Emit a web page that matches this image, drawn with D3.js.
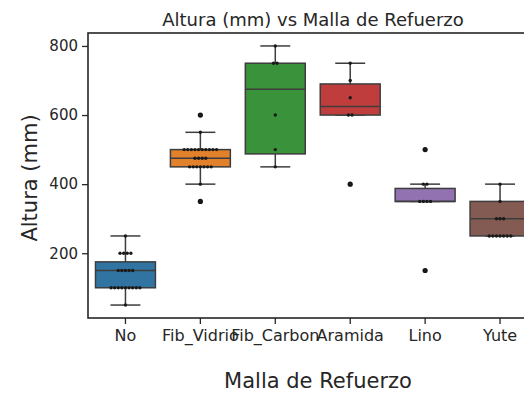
<!DOCTYPE html>
<html>
<head>
<meta charset="utf-8">
<script src="https://cdn.jsdelivr.net/npm/d3@7"></script>
<style>
  html, body { margin: 0; padding: 0; background: #fff; }
  svg { display: block; font-family: "DejaVu Sans", sans-serif; }
</style>
</head>
<body>
<svg id="chart" width="524" height="397"></svg>
<script>
// Reinforcement mesh categories
const categories = ["No", "Fib_Vidrio", "Fib_Carbon", "Aramida", "Lino", "Yute"];
const colors = ["#3274a1", "#e1812c", "#3a923a", "#c03d3e", "#9372b2", "#845b53"];

// Box statistics per category (mm)
const whiskerLow  = [50, 400, 450, 600, 350, 250];
const q1          = [100, 450, 487.5, 600, 350, 250];
const median      = [150, 475, 675, 625, 350, 300];
const q3          = [175, 500, 750, 690, 387.5, 350];
const whiskerHigh = [250, 550, 800, 750, 400, 400];
const outliers    = [[], [350, 600], [], [400], [150, 500], []];

// Individual observations (mm)
const obsNo        = [50, 100, 100, 100, 100, 100, 100, 100, 100, 100, 150, 150, 150, 150, 150, 200, 200, 200, 200, 250];
const obsFibVidrio = [350, 400, 450, 450, 450, 450, 450, 450, 450, 475, 475, 475, 475, 500, 500, 500, 500, 500, 500, 500, 500, 500, 500, 550, 600];
const obsFibCarbon = [450, 500, 600, 750, 750, 800];
const obsAramida   = [400, 600, 600, 650, 700, 750];
const obsLino      = [150, 350, 350, 350, 350, 400, 400, 500];
const obsYute      = [250, 250, 250, 250, 250, 250, 250, 300, 300, 300, 350, 400];
const observations = [obsNo, obsFibVidrio, obsFibCarbon, obsAramida, obsLino, obsYute];

const yTicks = [200, 400, 600, 800];

const svg = d3.select("#chart");
const margin = { left: 88, top: 33, right: 537.5, bottom: 318 };
const lineColor = "#3d3d3d";
const axisColor = "#262626";

const x = d3.scaleBand().domain(categories).range([margin.left, margin.right]).paddingInner(0).paddingOuter(0);
const y = d3.scaleLinear().domain([12.5, 837.5]).range([margin.bottom, margin.top]);

const boxW = x.bandwidth() * 0.8;
const capW = boxW * 0.5;

const g = svg.append("g");

categories.forEach((c, i) => {
  const cx = x(c) + x.bandwidth() / 2;
  const bg = g.append("g");
  // whiskers
  bg.append("line").attr("x1", cx).attr("x2", cx).attr("y1", y(q3[i])).attr("y2", y(whiskerHigh[i]))
    .attr("stroke", lineColor).attr("stroke-width", 1.5);
  bg.append("line").attr("x1", cx).attr("x2", cx).attr("y1", y(q1[i])).attr("y2", y(whiskerLow[i]))
    .attr("stroke", lineColor).attr("stroke-width", 1.5);
  // caps
  [whiskerLow[i], whiskerHigh[i]].forEach(v => {
    bg.append("line").attr("x1", cx - capW / 2).attr("x2", cx + capW / 2).attr("y1", y(v)).attr("y2", y(v))
      .attr("stroke", lineColor).attr("stroke-width", 1.5);
  });
  // box
  bg.append("rect").attr("x", cx - boxW / 2).attr("width", boxW)
    .attr("y", y(q3[i])).attr("height", Math.max(0.5, y(q1[i]) - y(q3[i])))
    .attr("fill", colors[i]).attr("stroke", lineColor).attr("stroke-width", 1.5);
  // median
  bg.append("line").attr("x1", cx - boxW / 2).attr("x2", cx + boxW / 2).attr("y1", y(median[i])).attr("y2", y(median[i]))
    .attr("stroke", lineColor).attr("stroke-width", 1.5);
  // outliers
  outliers[i].forEach(v => {
    bg.append("circle").attr("cx", cx).attr("cy", y(v)).attr("r", 2.6).attr("fill", "#111");
  });
  // swarm of observations: equal values spread side by side
  const groups = d3.group(observations[i], d => d);
  groups.forEach((vals, v) => {
    const n = vals.length, step = 3.6;
    vals.forEach((_, k) => {
      const off = (k - (n - 1) / 2) * step;
      bg.append("circle").attr("cx", cx + off).attr("cy", y(v)).attr("r", 1.7).attr("fill", "#1a1a1a");
    });
  });
});

// frame
g.append("rect").attr("x", margin.left).attr("y", margin.top)
  .attr("width", margin.right - margin.left).attr("height", margin.bottom - margin.top)
  .attr("fill", "none").attr("stroke", axisColor).attr("stroke-width", 1.6);

// axes
const yAxis = d3.axisLeft(y).tickValues(yTicks).tickSize(6).tickPadding(4);
const ya = svg.append("g").attr("transform", `translate(${margin.left},0)`).call(yAxis);
ya.select(".domain").remove();
ya.selectAll(".tick line").attr("stroke", axisColor).attr("stroke-width", 1.3);
ya.selectAll(".tick text").attr("font-size", 15).attr("fill", axisColor).attr("font-family", "DejaVu Sans");

const xAxis = d3.axisBottom(x).tickSize(6).tickPadding(6);
const xa = svg.append("g").attr("transform", `translate(0,${margin.bottom})`).call(xAxis);
xa.select(".domain").remove();
xa.selectAll(".tick line").attr("stroke", axisColor).attr("stroke-width", 1.3);
xa.selectAll(".tick text").attr("font-size", 16).attr("fill", axisColor).attr("font-family", "DejaVu Sans");

// titles
svg.append("text").attr("x", 313).attr("y", 26).attr("text-anchor", "middle")
  .attr("font-size", 18).attr("fill", axisColor).text("Altura (mm) vs Malla de Refuerzo");
svg.append("text").attr("x", 318).attr("y", 388).attr("text-anchor", "middle")
  .attr("font-size", 21).attr("fill", axisColor).text("Malla de Refuerzo");
svg.append("text").attr("transform", "translate(37,178) rotate(-90)").attr("text-anchor", "middle")
  .attr("font-size", 21).attr("fill", axisColor).text("Altura (mm)");
</script>
</body>
</html>
